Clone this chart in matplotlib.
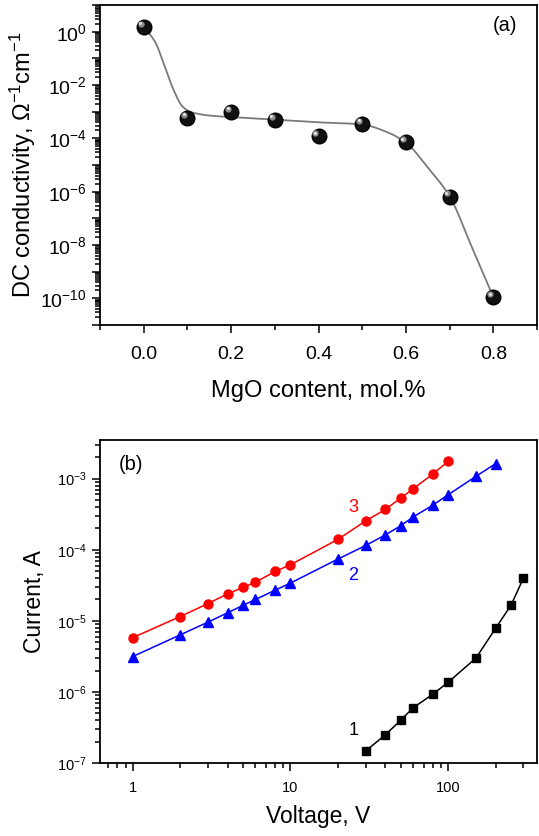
"""
Two-panel figure: DC conductivity vs MgO content (a) and I-V curves (b).
"""
import numpy as np
import matplotlib
matplotlib.use('Agg')
import matplotlib.pyplot as plt
from matplotlib.ticker import LogLocator, FuncFormatter, MultipleLocator, NullFormatter
from matplotlib.transforms import ScaledTranslation

plt.rcParams['font.family'] = ['Liberation Sans', 'DejaVu Sans']
plt.rcParams['mathtext.fontset'] = 'custom'
plt.rcParams['mathtext.rm'] = 'Liberation Sans'
plt.rcParams['mathtext.it'] = 'Liberation Sans'

# ---- panel (a) data ----
mgo_content = [0.0, 0.1, 0.2, 0.3, 0.4, 0.5, 0.6, 0.7, 0.8]
dc_conductivity = [1.5, 6.0e-4, 1.0e-3, 5.0e-4, 1.2e-4, 3.5e-4, 7.0e-5, 6.6e-7, 1.1e-10]

# guide curve (log10 of conductivity)
curve_x = [0.0, 0.027, 0.045, 0.068, 0.089, 0.111, 0.16, 0.2, 0.25, 0.3, 0.35, 0.4,
           0.45, 0.5, 0.55, 0.6, 0.65, 0.7, 0.75, 0.8]
curve_log = [0.19, -0.41, -1.16, -2.17, -2.81, -3.03, -3.16, -3.2, -3.25, -3.3, -3.35, -3.4,
             -3.43, -3.48, -3.72, -4.16, -5.1, -6.18, -8.05, -9.96]

# ---- panel (b) data ----
volt_3 = [1, 2, 3, 4, 5, 6, 8, 10, 20, 30, 40, 50, 60, 80, 100]
curr_3 = [5.8e-6, 1.15e-5, 1.75e-5, 2.4e-5, 2.95e-5, 3.5e-5, 4.95e-5, 6.15e-5,
          1.4e-4, 2.55e-4, 3.7e-4, 5.35e-4, 7.2e-4, 1.17e-3, 1.75e-3]

volt_2 = [1, 2, 3, 4, 5, 6, 8, 10, 20, 30, 40, 50, 60, 80, 100, 150, 200]
curr_2 = [3.15e-6, 6.35e-6, 9.6e-6, 1.3e-5, 1.65e-5, 2.0e-5, 2.7e-5, 3.4e-5,
          7.4e-5, 1.15e-4, 1.62e-4, 2.18e-4, 2.9e-4, 4.25e-4, 5.95e-4, 1.08e-3, 1.63e-3]

volt_1 = [30, 40, 50, 60, 80, 100, 150, 200, 250, 300]
curr_1 = [1.48e-7, 2.5e-7, 4.0e-7, 6.0e-7, 9.3e-7, 1.37e-6, 3.0e-6, 7.9e-6, 1.66e-5, 4.0e-5]


def smooth_curve(xk, yk, n=400):
    """Monotone cubic Hermite through the knots."""
    xk = np.asarray(xk, float)
    yk = np.asarray(yk, float)
    h = np.diff(xk)
    d = np.diff(yk) / h
    m = np.zeros_like(yk)
    m[0], m[-1] = d[0], d[-1]
    for i in range(1, len(xk) - 1):
        if d[i - 1] * d[i] <= 0:
            m[i] = 0.0
        else:
            w1 = 2 * h[i] + h[i - 1]
            w2 = h[i] + 2 * h[i - 1]
            m[i] = (w1 + w2) / (w1 / d[i - 1] + w2 / d[i])
    xs = np.linspace(xk[0], xk[-1], n)
    idx = np.clip(np.searchsorted(xk, xs) - 1, 0, len(xk) - 2)
    t = (xs - xk[idx]) / h[idx]
    h00 = 2 * t**3 - 3 * t**2 + 1
    h10 = t**3 - 2 * t**2 + t
    h01 = -2 * t**3 + 3 * t**2
    h11 = t**3 - t**2
    ys = h00 * yk[idx] + h10 * h[idx] * m[idx] + h01 * yk[idx + 1] + h11 * h[idx] * m[idx + 1]
    return xs, ys


def style_axes(ax, tick_size, pad):
    for s in ax.spines.values():
        s.set_linewidth(1.3)
    ax.tick_params(which='both', direction='out', top=False, right=False,
                   labelsize=tick_size, width=1.1)
    ax.tick_params(which='major', length=6)
    ax.tick_params(which='minor', length=3.5)
    ax.tick_params(axis='x', which='major', pad=pad)


fig = plt.figure(figsize=(5.39, 8.36), dpi=100)

# ---------------- panel (a) ----------------
ax1 = fig.add_axes([0.1855, 0.6112, 0.811, 0.3828])
cx, cy = smooth_curve(curve_x, curve_log)
ax1.plot(cx, 10 ** cy, color='#7a7a7a', linewidth=1.3, zorder=2)

ax1.plot(mgo_content, dc_conductivity, linestyle='none', marker='o', markersize=10.5,
         color='#111111', markeredgecolor='#000000', zorder=3)
hl = ax1.transData + ScaledTranslation(-2.2 / 72, 2.2 / 72, fig.dpi_scale_trans)
ax1.plot(mgo_content, dc_conductivity, linestyle='none', marker='o', markersize=4.5,
         color='#8c8c8c', markeredgewidth=0, transform=hl, zorder=4)
hl2 = ax1.transData + ScaledTranslation(-2.6 / 72, 2.6 / 72, fig.dpi_scale_trans)
ax1.plot(mgo_content, dc_conductivity, linestyle='none', marker='o', markersize=2,
         color='#f0f0f0', markeredgewidth=0, transform=hl2, zorder=5)

ax1.set_yscale('log')
ax1.set_xlim(-0.1, 0.9)
ax1.set_ylim(1e-11, 1e1)
ax1.xaxis.set_major_locator(MultipleLocator(0.2))
ax1.xaxis.set_minor_locator(MultipleLocator(0.1))
ax1.xaxis.set_major_formatter(FuncFormatter(lambda v, p: f'{v:.1f}'))
ax1.yaxis.set_major_locator(LogLocator(base=10, numticks=30))
ax1.yaxis.set_minor_locator(LogLocator(base=10, subs=np.arange(2, 10), numticks=30))
ax1.yaxis.set_minor_formatter(NullFormatter())


def even_decades(v, p):
    e = int(round(np.log10(v)))
    return f'$10^{{{e}}}$' if e % 2 == 0 else ''


ax1.yaxis.set_major_formatter(FuncFormatter(even_decades))
style_axes(ax1, 14, 9)
ax1.set_xlabel('MgO content, mol.%', fontsize=17, labelpad=12)
ax1.set_ylabel('DC conductivity, $\\Omega^{-1}$cm$^{-1}$', fontsize=17, labelpad=2)
ax1.text(0.955, 0.935, '(a)', transform=ax1.transAxes, fontsize=14.5,
         ha='right', va='center')

# ---------------- panel (b) ----------------
ax2 = fig.add_axes([0.1855, 0.0873, 0.811, 0.3864])
ax2.plot(volt_3, curr_3, color='red', marker='o', markersize=6.5, linewidth=1.1)
ax2.plot(volt_2, curr_2, color='blue', marker='^', markersize=7, linewidth=1.1)
ax2.plot(volt_1, curr_1, color='black', marker='s', markersize=5.5, linewidth=1.1)
ax2.set_xscale('log')
ax2.set_yscale('log')
ax2.set_xlim(0.62, 366)
ax2.set_ylim(1e-7, 3.5e-3)
ax2.xaxis.set_major_locator(LogLocator(base=10, numticks=10))
ax2.xaxis.set_minor_locator(LogLocator(base=10, subs=np.arange(2, 10), numticks=10))
ax2.xaxis.set_major_formatter(FuncFormatter(lambda v, p: f'{v:g}'))
ax2.xaxis.set_minor_formatter(NullFormatter())
ax2.yaxis.set_major_locator(LogLocator(base=10, numticks=10))
ax2.yaxis.set_minor_locator(LogLocator(base=10, subs=np.arange(2, 10), numticks=10))
ax2.yaxis.set_minor_formatter(NullFormatter())
style_axes(ax2, 10.5, 7)
ax2.set_xlabel('Voltage, V', fontsize=16.5, labelpad=7)
ax2.set_ylabel('Current, A', fontsize=16.5, labelpad=8)
ax2.text(0.07, 0.925, '(b)', transform=ax2.transAxes, fontsize=14.5,
         ha='center', va='center')
ax2.text(25, 2.9e-7, '1', color='black', fontsize=13, ha='center', va='center')
ax2.text(25, 4.4e-5, '2', color='blue', fontsize=13, ha='center', va='center')
ax2.text(25, 3.9e-4, '3', color='red', fontsize=13, ha='center', va='center')

fig.savefig('out.png', dpi=100)
